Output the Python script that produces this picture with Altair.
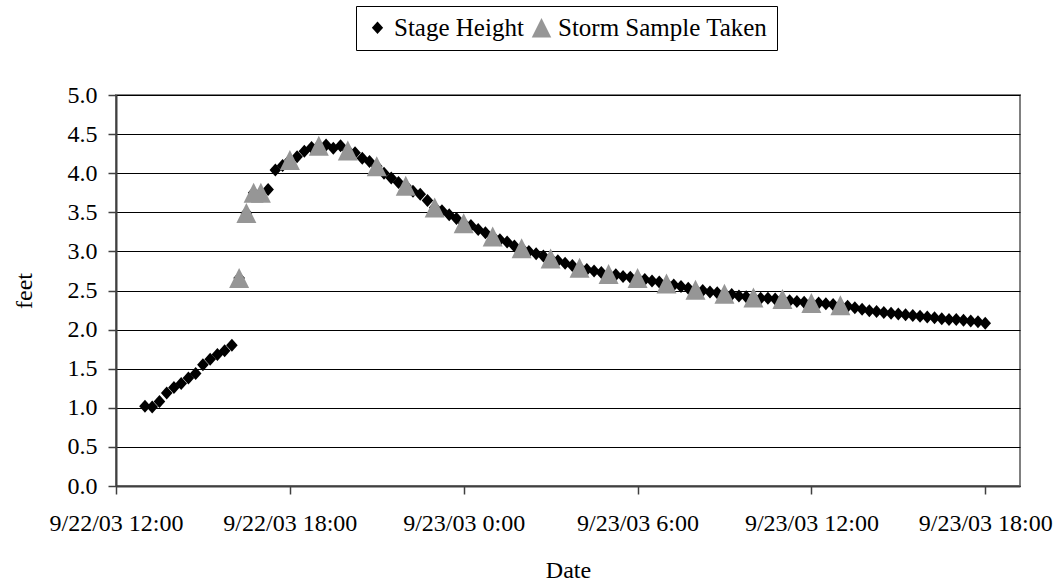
import altair as alt
import pandas as pd

# Stage height, logged every 15 minutes from 9/22/03 13:00 (one row per hour)
stage_start = "2003-09-22 13:00"
stage_ft = [
    1.02, 1.01, 1.08, 1.19,
    1.26, 1.31, 1.38, 1.44,
    1.55, 1.62, 1.68, 1.73,
    1.80, 2.66, 3.49, 3.75,
    3.75, 3.79, 4.04, 4.10,
    4.17, 4.21, 4.28, 4.33,
    4.35, 4.36, 4.32, 4.35,
    4.29, 4.26, 4.19, 4.15,
    4.09, 4.00, 3.94, 3.88,
    3.84, 3.77, 3.73, 3.65,
    3.56, 3.52, 3.47, 3.42,
    3.36, 3.33, 3.28, 3.24,
    3.19, 3.15, 3.12, 3.07,
    3.04, 3.00, 2.97, 2.94,
    2.91, 2.88, 2.85, 2.82,
    2.79, 2.77, 2.75, 2.73,
    2.71, 2.70, 2.68, 2.67,
    2.66, 2.64, 2.62, 2.61,
    2.59, 2.57, 2.55, 2.53,
    2.51, 2.50, 2.48, 2.47,
    2.46, 2.45, 2.43, 2.42,
    2.41, 2.40, 2.40, 2.39,
    2.39, 2.37, 2.36, 2.35,
    2.34, 2.34, 2.33, 2.32,
    2.31, 2.30, 2.28, 2.26,
    2.24, 2.23, 2.22, 2.21,
    2.20, 2.19, 2.18, 2.17,
    2.16, 2.15, 2.14, 2.13,
    2.13, 2.12, 2.11, 2.10,
    2.08,
]

# Times and stage heights at which storm samples were taken
storm_time = [
    "2003-09-22 16:15", "2003-09-22 16:30", "2003-09-22 16:45", "2003-09-22 17:00",
    "2003-09-22 18:00", "2003-09-22 19:00", "2003-09-22 20:00", "2003-09-22 21:00",
    "2003-09-22 22:00", "2003-09-22 23:00", "2003-09-23 00:00", "2003-09-23 01:00",
    "2003-09-23 02:00", "2003-09-23 03:00", "2003-09-23 04:00", "2003-09-23 05:00",
    "2003-09-23 06:00", "2003-09-23 07:00", "2003-09-23 08:00", "2003-09-23 09:00",
    "2003-09-23 10:00", "2003-09-23 11:00", "2003-09-23 12:00", "2003-09-23 13:00",
]
storm_ft = [
    2.66, 3.49, 3.75, 3.75,
    4.17, 4.35, 4.29, 4.09,
    3.84, 3.56, 3.36, 3.19,
    3.04, 2.91, 2.79, 2.71,
    2.66, 2.59, 2.51, 2.46,
    2.41, 2.39, 2.34, 2.31,
]

# Axis ticks, in hours after 9/22/03 0:00
tick_hours = [12, 18, 24, 30, 36, 42]
tick_labels = ["9/22/03 12:00", "9/22/03 18:00", "9/23/03 0:00",
               "9/23/03 6:00", "9/23/03 12:00", "9/23/03 18:00"]
x_range = [12, 43.2]
y_ticks = [0, 0.5, 1, 1.5, 2, 2.5, 3, 3.5, 4, 4.5, 5]

series_names = ["Stage Height", "Storm Sample Taken"]
series_colors = ["#000000", "#969696"]
# small diamond and large upward triangle, drawn in a [-1, 1] box
series_shapes = ["M0,-0.65L0.58,0L0,0.65L-0.58,0Z", "M0,-1L1,1L-1,1Z"]

FONT = "Liberation Serif, Times New Roman, Times, serif"

origin = pd.Timestamp("2003-09-22 00:00")
stage_times = pd.date_range(stage_start, periods=len(stage_ft), freq="15min")
stage = pd.DataFrame({
    "hours": (stage_times - origin) / pd.Timedelta(hours=1),
    "feet": stage_ft,
    "series": series_names[0],
})
storm = pd.DataFrame({
    "hours": (pd.to_datetime(storm_time) - origin) / pd.Timedelta(hours=1),
    "feet": storm_ft,
    "series": series_names[1],
})
# samples come last so the triangles sit on top of the diamonds
data = pd.concat([stage, storm], ignore_index=True)

label_expr = "{}[indexof({}, datum.value)]".format(
    "[" + ",".join("'%s'" % t for t in tick_labels) + "]",
    "[" + ",".join(str(h) for h in tick_hours) + "]",
)

legend = alt.Legend(
    title=None,
    orient="none",
    legendX=240,
    legendY=-89,
    direction="horizontal",
    padding=9,
    strokeColor="#000000",
    fillColor="#ffffff",
    labelFont=FONT,
    labelFontSize=25,
    labelColor="#000000",
    labelLimit=400,
    symbolSize=380,
    symbolStrokeWidth=0,
    symbolOpacity=1,
    labelOffset=4,
    columnPadding=5,
)

chart = (
    alt.Chart(data)
    .mark_point(filled=True, opacity=1, size=400, strokeWidth=0)
    .encode(
        x=alt.X(
            "hours:Q",
            scale=alt.Scale(domain=x_range, nice=False, zero=False),
            axis=alt.Axis(
                values=tick_hours,
                labelExpr=label_expr,
                title="Date",
                grid=False,
                tickSize=8,
                labelPadding=17,
                labelFlush=False,
                labelOverlap=False,
                titleX=452,
                titleY=84,
                titleBaseline="middle",
            ),
        ),
        y=alt.Y(
            "feet:Q",
            scale=alt.Scale(domain=[0, 5], nice=False),
            axis=alt.Axis(
                values=y_ticks,
                format=".1f",
                title="feet",
                tickSize=8,
                labelPadding=11,
                titleAngle=-90,
                titleX=-92,
                titleY=195.5,
                titleAlign="center",
                titleBaseline="middle",
            ),
        ),
        color=alt.Color("series:N",
                        scale=alt.Scale(domain=series_names, range=series_colors),
                        legend=legend),
        shape=alt.Shape("series:N",
                        scale=alt.Scale(domain=series_names, range=series_shapes),
                        legend=legend),
    )
    .properties(
        width=904,
        height=391,
        autosize=alt.AutoSizeParams(type="none"),
        padding={"left": 116, "top": 95, "right": 38, "bottom": 98},
        background="#ffffff",
    )
    .configure_view(stroke="#808080", strokeWidth=2)
    .configure_axis(
        labelFont=FONT,
        titleFont=FONT,
        labelFontSize=24,
        titleFontSize=24,
        titleFontWeight="normal",
        labelColor="#000000",
        titleColor="#000000",
        domainColor="#404040",
        domainWidth=2,
        tickColor="#404040",
        tickWidth=1.5,
        gridColor="#000000",
        gridWidth=1,
    )
)

chart.save("out.html", embed_options={"renderer": "svg", "actions": False})
